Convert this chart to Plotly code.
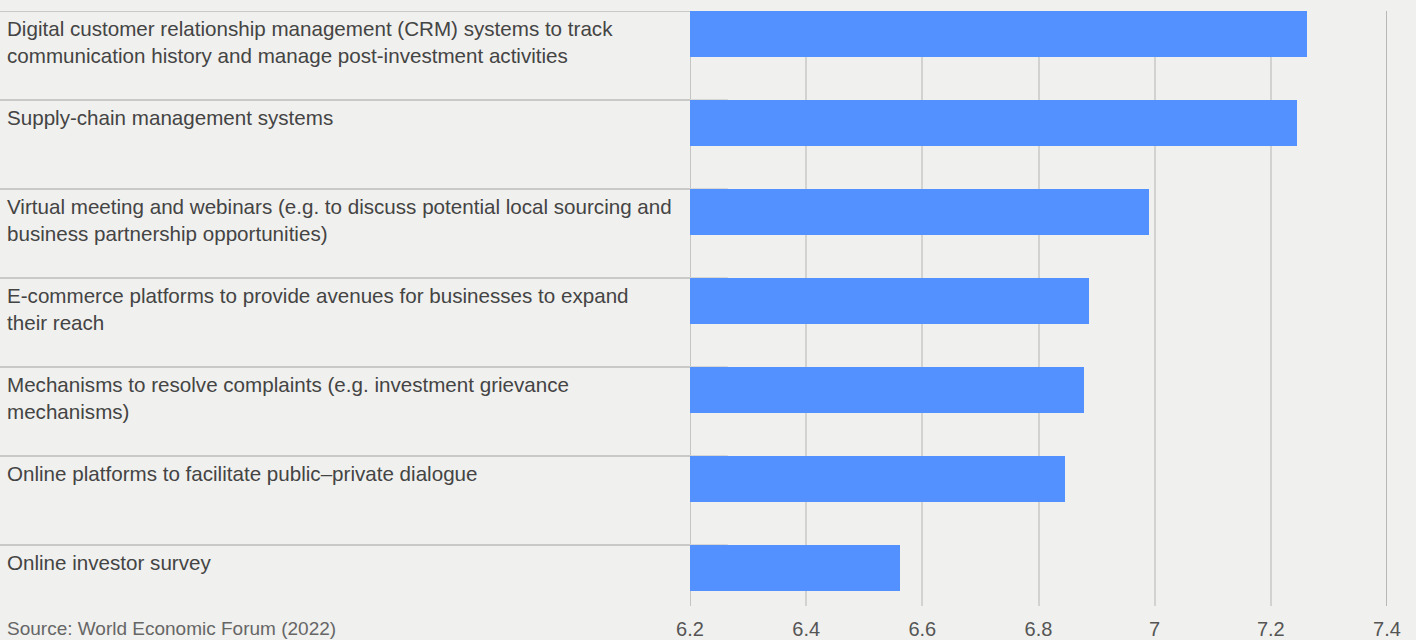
import plotly.graph_objects as go

categories = [
    "Digital customer relationship management (CRM) systems to track<br>communication history and manage post-investment activities",
    "Supply-chain management systems",
    "Virtual meeting and webinars (e.g. to discuss potential local sourcing and<br>business partnership opportunities)",
    "E-commerce platforms to provide avenues for businesses to expand<br>their reach",
    "Mechanisms to resolve complaints (e.g. investment grievance<br>mechanisms)",
    "Online platforms to facilitate public–private dialogue",
    "Online investor survey",
]
values = [7.262, 7.245, 6.99, 6.887, 6.878, 6.846, 6.562]
tick_vals = [6.2, 6.4, 6.6, 6.8, 7.0, 7.2, 7.4]
tick_text = ["6.2", "6.4", "6.6", "6.8", "7", "7.2", "7.4"]
source = "Source: World Economic Forum (2022)"

BG = "#f0f0ee"
BAR = "#5291ff"
TXT = "#444444"
W = 46 / 89
half = W / 2
positions = list(range(len(categories)))

fig = go.Figure()
fig.add_trace(go.Bar(
    x=[v - 6.2 for v in values], base=6.2, y=positions, orientation="h",
    width=W, marker=dict(color=BAR, line=dict(width=0)), hoverinfo="skip",
))

shapes = []
annotations = []
for i, c in enumerate(categories):
    top = i - half
    shapes.append(dict(type="line", xref="paper", yref="y", x0=-690 / 697, x1=0, y0=top, y1=top,
                       line=dict(color="#c9c9c7", width=2), layer="below"))
    shapes.append(dict(type="line", xref="x", yref="y", x0=6.2, x1=6.265, y0=top, y1=top,
                       line=dict(color="#d6d6d4", width=2), layer="below"))
    annotations.append(dict(text=c, xref="paper", yref="y", x=-685 / 697, y=top + 0.045,
                            xanchor="left", yanchor="top", align="left", showarrow=False,
                            font=dict(family="Liberation Sans, Arial", size=20.6, color=TXT)))
shapes.append(dict(type="line", xref="x", yref="paper", x0=6.2, x1=6.2, y0=0, y1=1,
                   line=dict(color="#c4c4c2", width=2), layer="below"))
shapes.append(dict(type="line", xref="x", yref="paper", x0=7.4, x1=7.4, y0=0, y1=1,
                   line=dict(color="#b8b8b6", width=2), layer="below"))
annotations.append(dict(text=source, xref="paper", yref="paper", x=-685 / 697, y=-22 / 595,
                        xanchor="left", yanchor="middle", showarrow=False,
                        font=dict(family="Liberation Sans, Arial", size=19, color="#666666")))

fig.update_layout(
    width=1416, height=640,
    margin=dict(l=690, r=29, t=11, b=34, autoexpand=False),
    paper_bgcolor=BG, plot_bgcolor=BG,
    showlegend=False, bargap=0,
    xaxis=dict(range=[6.2, 7.4], tickvals=tick_vals, ticktext=tick_text, automargin=False,
               showgrid=True, gridcolor="#d2d2d0", gridwidth=2, zeroline=False,
               showline=False, ticks="", ticklen=0, ticklabelstandoff=9,
               tickfont=dict(family="Liberation Sans, Arial", size=20, color="#555555")),
    yaxis=dict(range=[6.427, -half], showticklabels=False, showgrid=False, automargin=False,
               zeroline=False, showline=False),
    shapes=shapes, annotations=annotations,
)

fig.write_html("out.html")
